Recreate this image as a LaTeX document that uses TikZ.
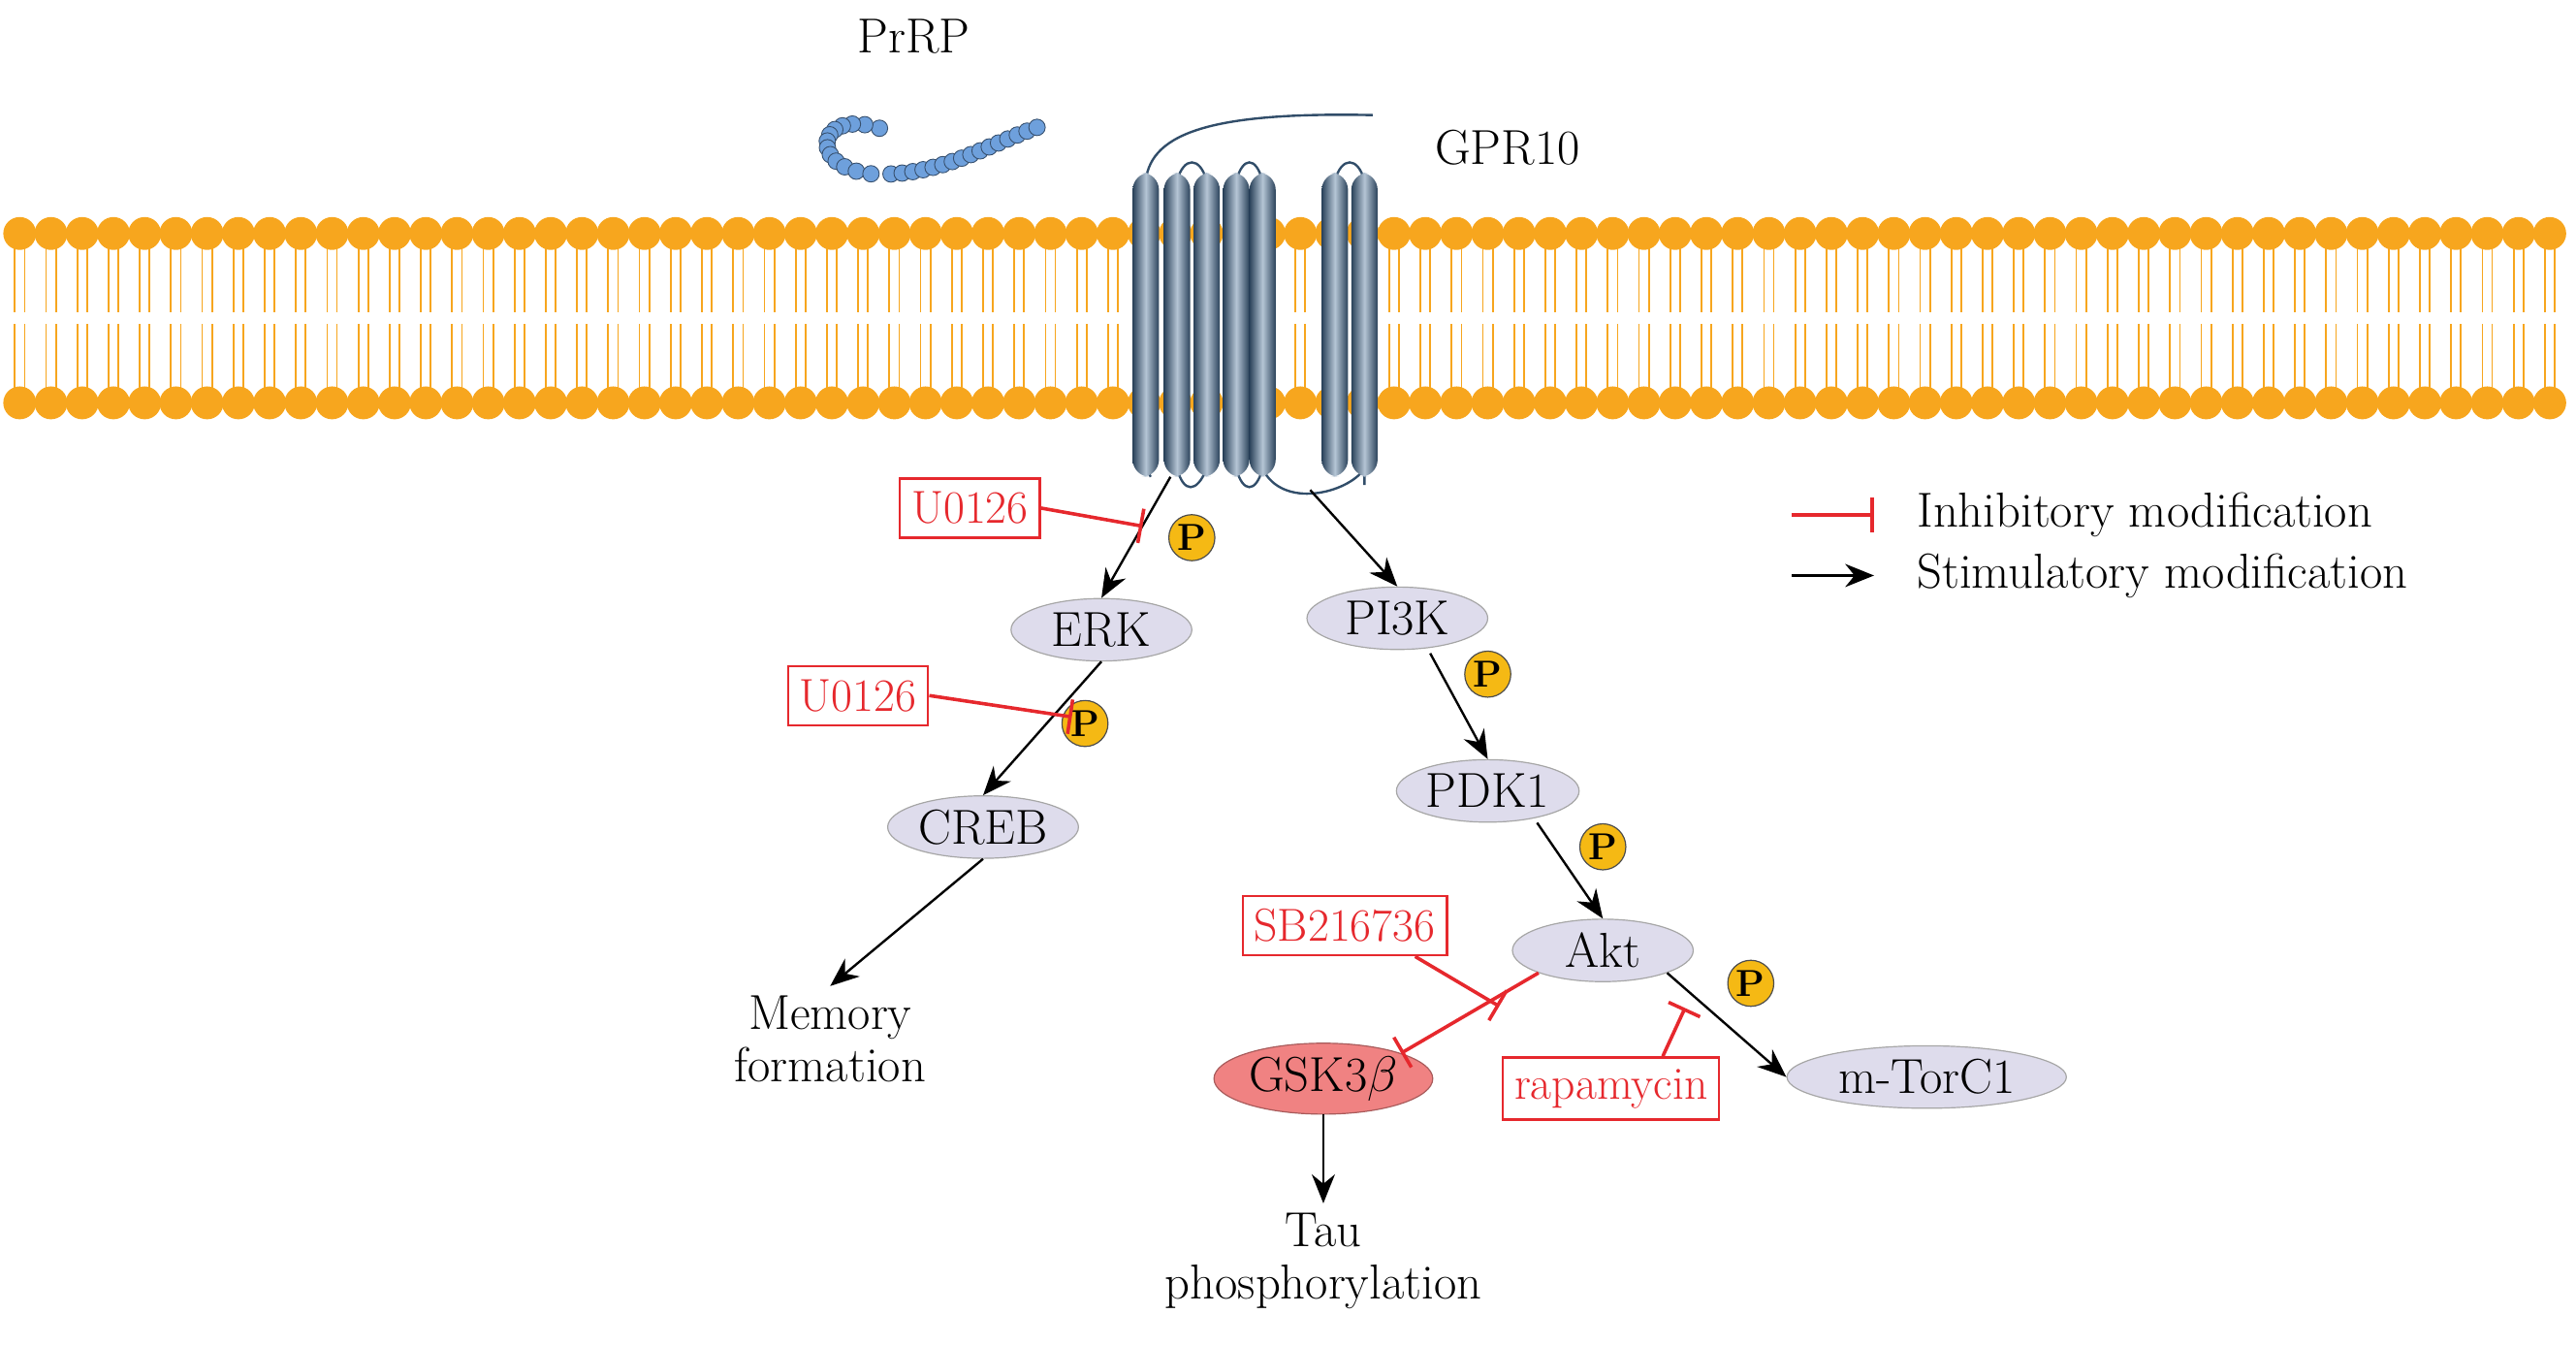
\documentclass[tikz,border=0pt]{standalone}
\usetikzlibrary{shapes.geometric,arrows.meta}
\definecolor{memb}{RGB}{247,166,30}
\definecolor{inhib}{RGB}{230,40,45}
\definecolor{prot}{RGB}{222,220,236}
\definecolor{gsk}{RGB}{240,130,130}
\definecolor{helix}{RGB}{70,110,150}
\definecolor{bead}{RGB}{110,160,220}
\definecolor{pball}{RGB}{245,185,20}
\begin{document}
\begin{tikzpicture}[x=0.02cm,y=-0.02cm,
    prot/.style={ellipse, draw=gray!70, fill=prot, minimum width=2.2cm, minimum height=0.76cm, inner sep=1pt, font=\fontsize{17}{20}\selectfont},
    drug/.style={rectangle, draw=inhib, thick, text=inhib, fill=white, minimum height=0.72cm, inner sep=4pt, font=\fontsize{16}{19}\selectfont},
    phos/.style={circle, draw=black!70, fill=pball, minimum size=0.56cm, inner sep=0pt, font=\fontsize{13}{15}\selectfont\bfseries},
    txt/.style={align=center, font=\fontsize{17}{20}\selectfont},
    stim/.style={-{Stealth[length=10pt,width=8pt]}, thick},
    inh/.style={-{Bar[width=12pt]}, line width=1.2pt, draw=inhib},
    bead/.style={fill=bead, draw=bead!50!black, line width=0.3pt}
]
\useasboundingbox (0,0) rectangle (1567,818);

% membrane
\foreach \x in {12,31,...,1555} {
  \draw[memb, line width=0.6pt] (\x-3,150) -- (\x-3,190) (\x+3,150) -- (\x+3,190);
  \draw[memb, line width=0.6pt] (\x-3,197) -- (\x-3,237) (\x+3,197) -- (\x+3,237);
  \fill[memb] (\x,142) circle (10);
  \fill[memb] (\x,245) circle (10);
}

% receptor
\draw[helix!70!black, thick] (697,110) .. controls (700,80) and (740,68) .. (835,70);
\draw[helix!70!black, thick] (716,285) .. controls (720,300) and (728,300) .. (734,285)
  (752,285) .. controls (756,300) and (764,300) .. (768,285)
  (768,285) .. controls (780,310) and (820,300) .. (830,285)
  (830,285) -- (830,295);
\draw[helix!70!black, thick] (697,285) -- (700,290) (716,110) .. controls (720,95) and (730,95) .. (734,110)
  (752,110) .. controls (756,95) and (764,95) .. (768,110)
  (812,110) .. controls (816,95) and (826,95) .. (830,110);
\foreach \x in {697,716,734,752,768,812,830}
  \shade[left color=helix!60!black, right color=helix!60!black, middle color=helix!40!white, rounded corners=6pt]
    (\x-8,105) rectangle (\x+8,290);

% PrRP chain
\foreach \t in {0,0.08,...,1.01} {
  \pgfmathsetmacro{\u}{1-\t}
  \pgfmathsetmacro{\bx}{\u^3*535+3*\u^2*\t*495+3*\u*\t^2*490+\t^3*535}
  \pgfmathsetmacro{\by}{\u^3*78+3*\u^2*\t*65+3*\u*\t^2*105+\t^3*106}
  \path[bead] (\bx,\by) circle (5);
}
\foreach \t in {0.06,0.12,...,1.01} {
  \pgfmathsetmacro{\u}{1-\t}
  \pgfmathsetmacro{\bx}{\u^3*535+3*\u^2*\t*575+3*\u*\t^2*600+\t^3*635}
  \pgfmathsetmacro{\by}{\u^3*106+3*\u^2*\t*106+3*\u*\t^2*88+\t^3*76}
  \path[bead] (\bx,\by) circle (5);
}
\node[txt] (prrp) at (556,22) {PrRP};
\node[txt] (gpr) at (917,90) {GPR10};

% proteins
\node[prot] (erk) at (670,383) {ERK};
\node[prot] (pi3k) at (850,376) {PI3K};
\node[prot] (creb) at (598,503) {CREB};
\node[prot] (pdk) at (905,481) {PDK1};
\node[prot] (akt) at (975,578) {Akt};
\node[prot, fill=gsk, draw=gsk!70!black] (gsk) at (805,656) {GSK3$\beta$};
\node[prot, minimum width=3.4cm] (mtor) at (1172,655) {m-TorC1};

% phospho
\node[phos] (p1) at (725,327) {P};
\node[phos] (p2) at (660,440) {P};
\node[phos] (p3) at (905,410) {P};
\node[phos] (p4) at (975,515) {P};
\node[phos] (p5) at (1065,598) {P};

% outputs
\node[txt] (mem) at (505,632) {Memory\\[-2pt]formation};
\node[txt] (tau) at (805,767) {Tau\\[-2pt]phosphorylation};

% inhibitors
\node[drug] (u1) at (590,309) {U0126};
\node[drug] (u2) at (522,423) {U0126};
\node[drug] (sb) at (818,563) {SB216736};
\node[drug] (rapa) at (980,662) {rapamycin};

\coordinate (r1) at (712,290);
\coordinate (r2) at (797,298);
\draw[stim] (r1) -- (erk.north);
\draw[stim] (r2) -- (pi3k.north);
\draw[stim] (erk.south) -- (creb.north);
\draw[stim] (pi3k.south) ++(20,2) -- (pdk.north);
\draw[stim] (pdk.south) ++(30,0) -- (akt.north);
\draw[stim] (creb.south) -- (mem.north);
\draw[stim] (akt.south east) -- (mtor.west);
\draw[stim] (gsk.south) -- (tau.north);
\draw[inh] (akt.south west) -- (gsk.north east);

\coordinate (i1) at (695,320);
\coordinate (i2) at (652,436);
\coordinate (i3) at (912,612);
\coordinate (i4) at (1025,613);
\draw[inh] (u1.east) -- (i1);
\draw[inh] (u2.east) -- (i2);
\draw[inh] (sb.south east) ++(-20,0) -- (i3);
\draw[inh] (rapa.north east) ++(-35,0) -- (i4);

% legend
\coordinate (l1) at (1090,313);
\coordinate (l2) at (1140,313);
\coordinate (l3) at (1090,350);
\coordinate (l4) at (1140,350);
\draw[inh] (l1) -- (l2);
\draw[stim] (l3) -- (l4);
\node[txt, anchor=west] (linh) at (1160,313) {Inhibitory modification};
\node[txt, anchor=west] (lstim) at (1160,350) {Stimulatory modification};
\end{tikzpicture}
\end{document}
